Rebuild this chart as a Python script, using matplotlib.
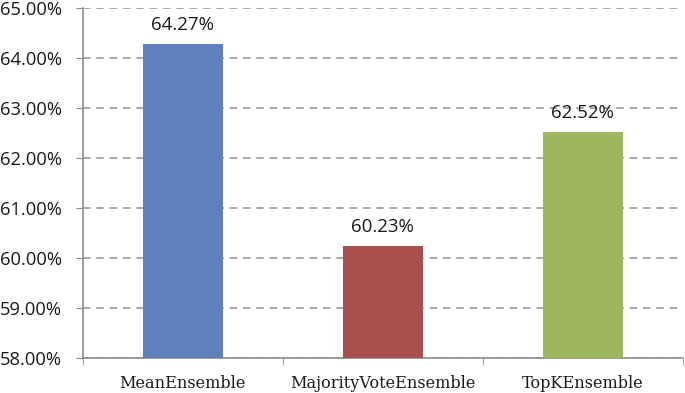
import numpy as np
import matplotlib
import matplotlib.pyplot as plt

models = ["MeanEnsemble", "MajorityVoteEnsemble", "TopKEnsemble"]
accuracy = [64.27, 60.23, 62.52]
colors = ["#5F80BC", "#A9504E", "#9EB75E"]
yticks = [58, 59, 60, 61, 62, 63, 64, 65]

fig = plt.figure(figsize=(6.85, 3.93), dpi=100)
ax = fig.add_axes([0.1205, 0.089, 0.876, 0.891])

x_pos = np.arange(len(models))
ax.bar(x_pos, accuracy, 0.4, color=colors, zorder=3)

for x, v in zip(x_pos, accuracy):
    ax.text(x, v + 0.2, "%.2f%%" % v, ha="center", va="bottom",
            fontsize=13.5, family="Open Sans", color="#1a1a1a")

ax.set_xlim(-0.5, len(models) - 0.5)
ax.set_ylim(58, 65)
ax.set_yticks(yticks)
ax.set_yticklabels(["%.2f%%" % t for t in yticks], family="Open Sans",
                   fontsize=13.2, color="#1a1a1a")
ax.yaxis.grid(True, linestyle=(0, (4.5, 3.5)), color="#9a9a9a", linewidth=1.2, zorder=0)

ax.set_xticks(x_pos)
ax.set_xticklabels(models, family="DejaVu Serif", fontsize=11.6, color="#1a1a1a")
ax.set_xticks(np.arange(len(models) + 1) - 0.5, minor=True)
ax.tick_params(axis="x", which="major", length=0, pad=12)
ax.tick_params(axis="x", which="minor", length=5, color="#8c8c8c", direction="out")
ax.tick_params(axis="y", length=5, color="#8c8c8c", direction="out", pad=10)

for s in ["top", "right"]:
    ax.spines[s].set_visible(False)
for s in ["left", "bottom"]:
    ax.spines[s].set_color("#8c8c8c")
    ax.spines[s].set_linewidth(1.2)

plt.savefig("out.png")
